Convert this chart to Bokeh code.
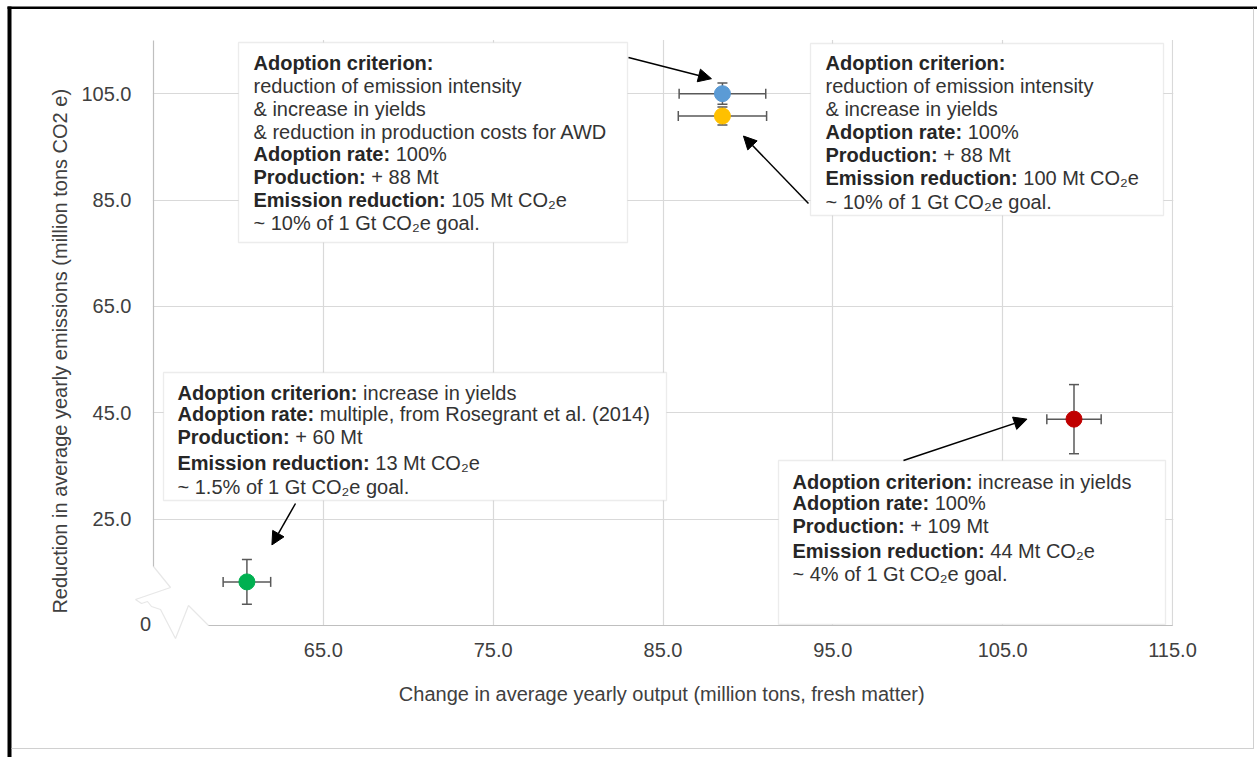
import math
from bokeh.plotting import figure
from bokeh.models import (BoxAnnotation, Label, Arrow, NormalHead, FixedTicker,
                          NumeralTickFormatter, PolyAnnotation, ColumnDataSource)
from bokeh.embed import file_html
from bokeh.resources import INLINE

# ---------------- data ----------------
scenarios = ["AWD, yields & costs", "AWD & yields", "Yields (Rosegrant et al.)", "Yields, 100%"]
output_change = [88.5, 88.5, 60.5, 109.2]        # million t fresh matter
emission_reduction = [105.0, 100.8, 13.2, 43.8]  # million t CO2e
output_err = [2.55, 2.6, 1.4, 1.6]
emission_err = [2.0, 1.7, 4.2, 6.5]
point_colors = ["#5b9bd5", "#ffc000", "#00b050", "#c00000"]
x_ticks = [65, 75, 85, 95, 105, 115]
y_ticks = [25, 45, 65, 85, 105]
x_title = "Change in average  yearly output (million tons, fresh matter)"
y_title = "Reduction in average  yearly emissions (million tons CO2 e)"
origin_label = "0"

box_blue = [[("Adoption criterion:", "b")],
            [("reduction of emission intensity", "n")],
            [("& increase in yields", "n")],
            [("& reduction in production costs for AWD", "n")],
            [("Adoption rate:", "b"), ("100%", "n")],
            [("Production:", "b"), ("+ 88 Mt", "n")],
            [("Emission reduction:", "b"), ("105 Mt CO\u2082e", "n")],
            [("~ 10% of 1 Gt CO\u2082e goal.", "n")]]
box_yellow = [[("Adoption criterion:", "b")],
              [("reduction of emission intensity", "n")],
              [("& increase in yields", "n")],
              [("Adoption rate:", "b"), ("100%", "n")],
              [("Production:", "b"), ("+ 88 Mt", "n")],
              [("Emission reduction:", "b"), ("100 Mt CO\u2082e", "n")],
              [("~ 10% of 1 Gt CO\u2082e goal.", "n")]]
box_green = [[("Adoption criterion:", "b"), ("increase in yields", "n")],
             [("Adoption rate:", "b"), ("multiple, from Rosegrant et al. (2014)", "n")],
             [("Production:", "b"), ("+ 60 Mt", "n")],
             [("Emission reduction:", "b"), ("13 Mt CO\u2082e", "n")],
             [("~ 1.5% of 1 Gt CO\u2082e goal.", "n")]]
box_red = [[("Adoption criterion:", "b"), ("increase in yields", "n")],
           [("Adoption rate:", "b"), ("100%", "n")],
           [("Production:", "b"), ("+ 109 Mt", "n")],
           [("Emission reduction:", "b"), ("44 Mt CO\u2082e", "n")],
           [("~ 4% of 1 Gt CO\u2082e goal.", "n")]]

# ---------------- layout / style ----------------
W, H = 1257, 757
FL, FR, FT, FB = 153, 1172, 40, 625       # plot-area edges in pixels
XA = (55, 115)                            # plotted x interval
YA = (5, 115)                             # plotted y interval
SX = (XA[1] - XA[0]) / (FR - FL)          # data units per pixel
SY = (YA[1] - YA[0]) / (FB - FT)
# the frame covers the whole canvas so that nothing is clipped
XR = (XA[0] - FL * SX, XA[1] + (W - FR) * SX)
YR = (YA[0] - (H - FB) * SY, YA[1] + FT * SY)
FONT = "Liberation Sans"
FS = 20
SPACE_EM = 0.278
BOLD_EM = {"Adoption criterion:": 9.000, "Adoption rate:": 6.833,
           "Production:": 5.611, "Emission reduction:": 9.613}
TXT = "#404040"


def dx(px):
    return XA[0] + (px - FL) * SX


def dy(py):
    return YA[1] - (py - FT) * SY


p = figure(width=W, height=H, x_range=XR, y_range=YR, output_backend="svg",
           toolbar_location=None, min_border=0, min_border_left=0, min_border_right=0,
           min_border_top=0, min_border_bottom=0)
p.outline_line_color = None
p.background_fill_color = "white"
p.border_fill_color = "white"

for ax in (p.xaxis, p.yaxis):
    ax.formatter = NumeralTickFormatter(format="0.0")
    ax.major_tick_line_color = None
    ax.minor_tick_line_color = None
    ax.axis_line_color = "#bfbfbf"
    ax.axis_line_width = 1.2
    ax.major_label_text_font = FONT
    ax.major_label_text_font_size = f"{FS}px"
    ax.major_label_text_color = TXT
p.xaxis.ticker = FixedTicker(ticks=x_ticks)
p.yaxis.ticker = FixedTicker(ticks=y_ticks)
p.xaxis.fixed_location = YA[0]
p.yaxis.fixed_location = XA[0]
p.xaxis.major_label_standoff = 11
p.yaxis.major_label_standoff = 16
# axis lines stop short of the origin, where the break mark is drawn
p.yaxis.bounds = (dy(566), YA[1])
p.xaxis.bounds = (dx(208), XA[1])
p.xgrid.ticker = FixedTicker(ticks=x_ticks)
p.ygrid.ticker = FixedTicker(ticks=y_ticks)
p.grid.grid_line_color = "#d9d9d9"
p.grid.grid_line_width = 1.2

# white margins around the plot area (hide grid lines outside it)
for (l, r, t, b) in [(-20, FL - 0.6, -20, H + 20), (FR + 0.8, W + 20, -20, H + 20),
                     (-20, W + 20, -20, FT - 0.5), (-20, W + 20, FB + 0.6, H + 20)]:
    p.add_layout(BoxAnnotation(left=dx(l), right=dx(r), top=dy(t), bottom=dy(b),
                               fill_color="white", fill_alpha=1, line_color=None, level="underlay"))

# axis titles
p.add_layout(Label(x=dx(664), y=dy(693), text=x_title, text_align="center", text_baseline="middle",
                   text_font=FONT, text_font_size=f"{FS}px", text_color=TXT))
p.add_layout(Label(x=dx(59), y=dy(348), text=y_title, angle=math.pi / 2, text_align="center",
                   text_baseline="middle", text_font=FONT, text_font_size=f"{FS}px", text_color=TXT))

# ---------------- outer frame of the picture ----------------
for (l, r, t, b, c) in [(7, W, 6, 8.5, "black"), (7, 11, 6, H, "black"),
                        (1252.5, 1253.5, 8, 748.5, "#d0d0d0"), (11, 1253.5, 747.5, 748.5, "#d0d0d0")]:
    p.add_layout(BoxAnnotation(left=dx(l), right=dx(r), top=dy(t), bottom=dy(b),
                               fill_color=c, fill_alpha=1, line_color=None))

# ---------------- axis break at the origin ----------------
zig = [(153, 566), (170, 587), (135, 599), (141, 603), (147, 601), (151, 606), (160, 609),
       (175, 638), (188, 605), (208, 625)]
zz = zig + zig[::-1]
p.add_layout(PolyAnnotation(xs=[dx(a) for a, _ in zz], ys=[dy(b) for _, b in zz],
                            fill_alpha=0, line_color="#b0b0b0", line_width=1.2))
p.add_layout(Label(x=dx(145), y=dy(623), text=origin_label, text_align="center", text_baseline="middle",
                   text_font=FONT, text_font_size=f"{FS}px", text_color=TXT))

# ---------------- points with error bars ----------------
src = ColumnDataSource(dict(
    x=output_change, y=emission_reduction, c=point_colors,
    xl=[a - e for a, e in zip(output_change, output_err)],
    xu=[a + e for a, e in zip(output_change, output_err)],
    yl=[a - e for a, e in zip(emission_reduction, emission_err)],
    yu=[a + e for a, e in zip(emission_reduction, emission_err)]))
EB = "#595959"
p.segment(x0="xl", y0="y", x1="xu", y1="y", source=src, line_color=EB, line_width=1.5)
p.segment(x0="x", y0="yl", x1="x", y1="yu", source=src, line_color=EB, line_width=1.5)
p.scatter(x="xl", y="y", source=src, marker="dash", angle=math.pi / 2, size=10, line_color=EB, line_width=1.5)
p.scatter(x="xu", y="y", source=src, marker="dash", angle=math.pi / 2, size=10, line_color=EB, line_width=1.5)
p.scatter(x="x", y="yl", source=src, marker="dash", size=10, line_color=EB, line_width=1.5)
p.scatter(x="x", y="yu", source=src, marker="dash", size=10, line_color=EB, line_width=1.5)
p.scatter(x="x", y="y", source=src, marker="circle", size=16, fill_color="c", line_color="c")

# ---------------- annotation boxes ----------------
boxes = [  # (lines, left, right, top, bottom, text_x, line_centres)
    (box_blue, 238, 627, 42, 242, 253, [62, 85, 108, 131, 153.5, 176, 199.5, 222]),
    (box_yellow, 810, 1163, 43, 215, 825, [62, 85, 108, 131, 154, 177, 201]),
    (box_green, 163, 666, 372, 500, 177, [392, 413, 436, 462, 486]),
    (box_red, 778, 1165, 460, 624, 792, [481, 502, 525, 550, 573]),
]
for lines, l, r, t, b, tx, ys in boxes:
    p.add_layout(BoxAnnotation(left=dx(l), right=dx(r), top=dy(t), bottom=dy(b),
                               fill_color="white", fill_alpha=1, line_color="#bfbfbf", line_width=1.3))
    for segs, ly in zip(lines, ys):
        x = tx
        for text, kind in segs:
            p.add_layout(Label(x=dx(x), y=dy(ly), text=text, text_align="left", text_baseline="middle",
                               text_font=FONT, text_font_size=f"{FS}px",
                               text_font_style="bold" if kind == "b" else "normal",
                               text_color="#262626" if kind == "b" else "#333333"))
            if kind == "b":
                x += (BOLD_EM[text] + SPACE_EM) * FS

# ---------------- arrows (start in box, tip near point) ----------------
arrows = [  # (start px, tip offset from point in px, point index)
    ((628, 57), (-11, -15), 0),
    ((808, 203), (21, 20), 1),
    ((295, 503), (25, -37), 2),
    ((903, 460), (-47, 0), 3),
]
for (sx, sy), (ox, oy), i in arrows:
    p.add_layout(Arrow(x_start=dx(sx), y_start=dy(sy),
                       x_end=output_change[i] + ox * SX,
                       y_end=emission_reduction[i] - oy * SY,
                       line_color="black", line_width=1.5,
                       end=NormalHead(size=13, fill_color="black", line_color="black")))

open("out.html", "w").write(file_html(p, INLINE))
